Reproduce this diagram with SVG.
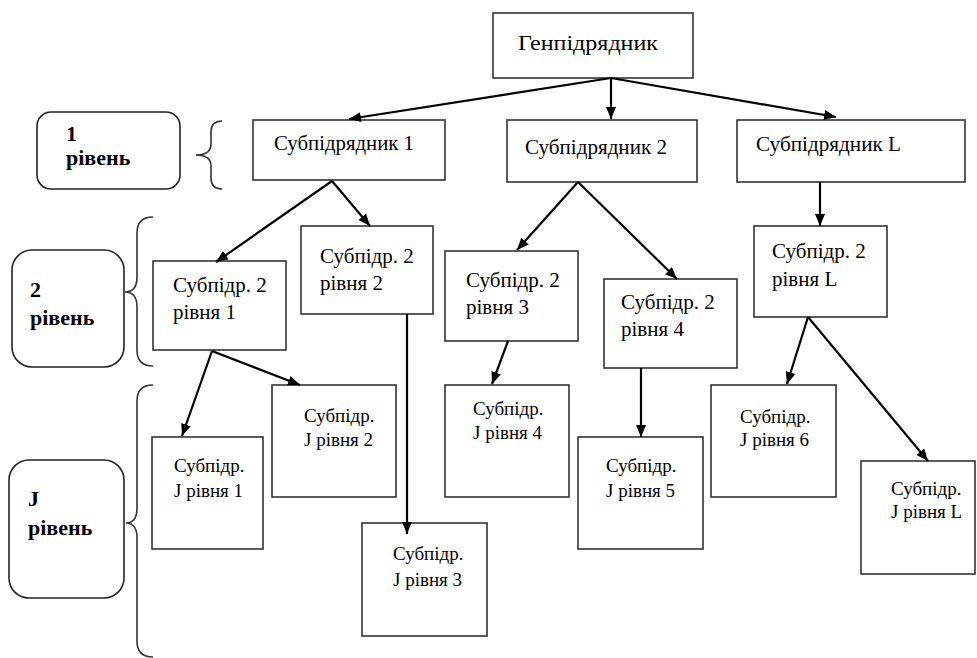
<svg xmlns="http://www.w3.org/2000/svg" width="977" height="658" viewBox="0 0 977 658">
<defs>
<style>
.box{fill:#fff;stroke:#333;stroke-width:1.6}
.lvl{fill:#fff;stroke:#222;stroke-width:1.6}
.t{font-family:"Liberation Serif","Times New Roman",serif;font-size:21px;fill:#000}
.tj{font-family:"Liberation Serif","Times New Roman",serif;font-size:19px;fill:#000}
.tb{font-family:"Liberation Serif","Times New Roman",serif;font-size:22px;font-weight:bold;fill:#000}
.c{fill:none;stroke:#000;stroke-width:2.2}
.br{fill:none;stroke:#333;stroke-width:1.6}
</style>
<marker id="ah" viewBox="0 0 12 10" refX="12" refY="5" markerWidth="12" markerHeight="10" markerUnits="userSpaceOnUse" orient="auto"><path d="M0,0 L12,5 L0,10 z" fill="#000"/></marker>
</defs>
<rect width="977" height="658" fill="#fff"/>

<g id="levels">
<g id="lvl1"><rect class="lvl" x="37" y="112" width="143" height="77" rx="14"/><text class="tb" x="66" y="141">1</text><text class="tb" x="66" y="165">рівень</text></g>
<g id="lvl2"><rect class="lvl" x="12" y="250" width="112" height="117" rx="20"/><text class="tb" x="30" y="297">2</text><text class="tb" x="30" y="325">рівень</text></g>
<g id="lvlJ"><rect class="lvl" x="9" y="460" width="115" height="138" rx="20"/><text class="tb" x="28" y="506">J</text><text class="tb" x="28" y="535">рівень</text></g>
<path class="br" d="M222,121 Q211,121 211,132 L211,144 Q211,155 196,155 Q211,155 211,166 L211,178 Q211,189 222,189"/>
<path class="br" d="M153,217 Q137,217 137,233 L137,277 Q137,292 125,292 Q137,292 137,307 L137,350 Q137,366 153,366"/>
<path class="br" d="M153,385 Q137,385 137,401 L137,508 Q137,523 126,523 Q137,523 137,538 L137,641 Q137,657 153,657"/>
</g>

<g id="gen"><rect class="box" x="493" y="13" width="200" height="65"/><text class="t" x="518" y="50" font-size="24" textLength="140" lengthAdjust="spacingAndGlyphs">Генпідрядник</text></g>
<g id="s1"><rect class="box" x="253" y="120" width="192" height="60"/><text class="t" x="274" y="150" textLength="140" lengthAdjust="spacingAndGlyphs">Субпідрядник 1</text></g>
<g id="s2"><rect class="box" x="507" y="120" width="190" height="62"/><text class="t" x="525" y="154" textLength="142" lengthAdjust="spacingAndGlyphs">Субпідрядник 2</text></g>
<g id="sL"><rect class="box" x="737" y="120" width="228" height="62"/><text class="t" x="756" y="151" textLength="145" lengthAdjust="spacingAndGlyphs">Субпідрядник L</text></g>

<g id="s2_1"><rect class="box" x="153" y="261" width="133" height="89"/><text class="t" x="173" y="292">Субпідр. 2</text><text class="t" x="173" y="319">рівня 1</text></g>
<g id="s2_2"><rect class="box" x="301" y="226" width="132" height="88"/><text class="t" x="320" y="263">Субпідр. 2</text><text class="t" x="320" y="290">рівня 2</text></g>
<g id="s2_3"><rect class="box" x="445" y="251" width="133" height="90"/><text class="t" x="466" y="287">Субпідр. 2</text><text class="t" x="466" y="314">рівня 3</text></g>
<g id="s2_4"><rect class="box" x="604" y="279" width="133" height="89"/><text class="t" x="621" y="309">Субпідр. 2</text><text class="t" x="621" y="336">рівня 4</text></g>
<g id="s2_L"><rect class="box" x="754" y="226" width="133" height="91"/><text class="t" x="772" y="258">Субпідр. 2</text><text class="t" x="772" y="286">рівня L</text></g>

<g id="j1"><rect class="box" x="152" y="437" width="111" height="112"/><text class="tj" x="174" y="472">Субпідр.</text><text class="tj" x="174" y="497">J рівня 1</text></g>
<g id="j2"><rect class="box" x="272" y="385" width="124" height="112"/><text class="tj" x="304" y="422">Субпідр.</text><text class="tj" x="304" y="446">J рівня 2</text></g>
<g id="j3"><rect class="box" x="362" y="523" width="125" height="113"/><text class="tj" x="393" y="560">Субпідр.</text><text class="tj" x="393" y="586">J рівня 3</text></g>
<g id="j4"><rect class="box" x="445" y="385" width="124" height="112"/><text class="tj" x="473" y="415">Субпідр.</text><text class="tj" x="473" y="439">J рівня 4</text></g>
<g id="j5"><rect class="box" x="578" y="437" width="125" height="112"/><text class="tj" x="606" y="472">Субпідр.</text><text class="tj" x="606" y="497">J рівня 5</text></g>
<g id="j6"><rect class="box" x="711" y="385" width="125" height="112"/><text class="tj" x="740" y="423">Субпідр.</text><text class="tj" x="740" y="446">J рівня 6</text></g>
<g id="jL"><rect class="box" x="861" y="461" width="114" height="113"/><text class="tj" x="891" y="495">Субпідр.</text><text class="tj" x="891" y="518">J рівня L</text></g>

<g id="connectors">
<line class="c" x1="611" y1="78" x2="349" y2="119" marker-end="url(#ah)"/>
<line class="c" x1="611" y1="78" x2="611" y2="119" marker-end="url(#ah)"/>
<line class="c" x1="611" y1="78" x2="836" y2="117" marker-end="url(#ah)"/>
<line class="c" x1="332" y1="181" x2="216" y2="262" marker-end="url(#ah)"/>
<line class="c" x1="332" y1="181" x2="370" y2="226" marker-end="url(#ah)"/>
<line class="c" x1="578" y1="182" x2="517" y2="250" marker-end="url(#ah)"/>
<line class="c" x1="578" y1="182" x2="677" y2="279" marker-end="url(#ah)"/>
<line class="c" x1="820" y1="182" x2="820" y2="226" marker-end="url(#ah)"/>
<line class="c" x1="212" y1="351" x2="182" y2="436" marker-end="url(#ah)"/>
<line class="c" x1="212" y1="351" x2="300" y2="385" marker-end="url(#ah)"/>
<line class="c" x1="407" y1="314" x2="407" y2="534" marker-end="url(#ah)"/>
<line class="c" x1="508" y1="341" x2="492" y2="384" marker-end="url(#ah)"/>
<line class="c" x1="641" y1="368" x2="641" y2="437" marker-end="url(#ah)"/>
<line class="c" x1="808" y1="317" x2="787" y2="384" marker-end="url(#ah)"/>
<line class="c" x1="808" y1="317" x2="928" y2="461" marker-end="url(#ah)"/>
</g>
</svg>
